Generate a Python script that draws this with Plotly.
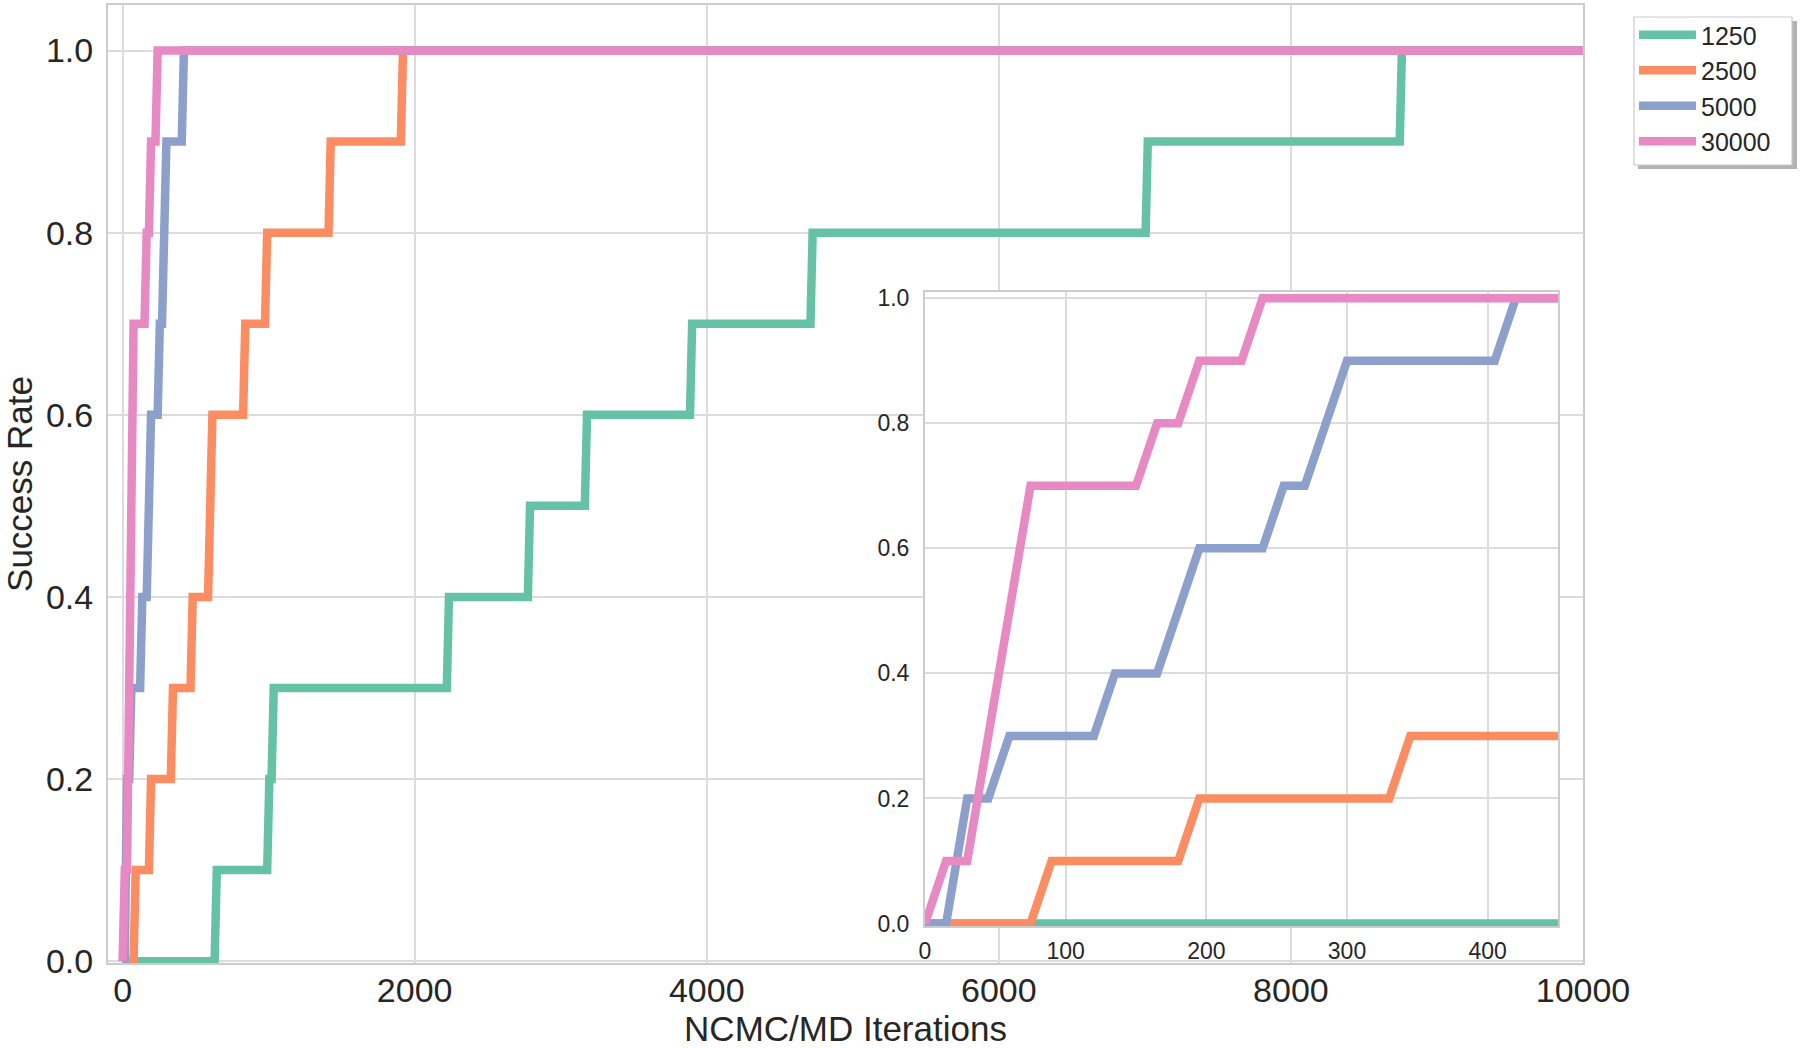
import plotly.graph_objects as go

# ---------------- data ----------------
series_names = ["1250", "2500", "5000", "30000"]
colors = ["#66c2a5", "#fc8d62", "#8da0cb", "#e78ac3"]

x_1250 = [0, 630, 645, 990, 1005, 1020, 1035, 2220, 2235, 2775, 2790, 3165, 3180,
          3885, 3900, 4710, 4725, 7005, 7020, 8745, 8760, 10000]
y_1250 = [0, 0, 0.1, 0.1, 0.2, 0.2, 0.3, 0.3, 0.4, 0.4, 0.5, 0.5, 0.6,
          0.6, 0.7, 0.7, 0.8, 0.8, 0.9, 0.9, 1.0, 1.0]

x_2500 = [0, 75, 90, 180, 195, 330, 345, 465, 480, 585, 615, 825, 840, 975,
          990, 1410, 1425, 1905, 1920, 10000]
y_2500 = [0, 0, 0.1, 0.1, 0.2, 0.2, 0.3, 0.3, 0.4, 0.4, 0.6, 0.6, 0.7, 0.7,
          0.8, 0.8, 0.9, 0.9, 1.0, 1.0]

x_5000 = [0, 15, 30, 45, 60, 120, 135, 165, 195, 240, 255, 270, 300, 405, 420, 10000]
y_5000 = [0, 0, 0.2, 0.2, 0.3, 0.3, 0.4, 0.4, 0.6, 0.6, 0.7, 0.7, 0.9, 0.9, 1.0, 1.0]

x_30000 = [0, 15, 30, 75, 150, 165, 180, 195, 225, 240, 10000]
y_30000 = [0, 0.1, 0.1, 0.7, 0.7, 0.8, 0.8, 0.9, 0.9, 1.0, 1.0]

main_xticks = [0, 2000, 4000, 6000, 8000, 10000]
main_yticks = [0.0, 0.2, 0.4, 0.6, 0.8, 1.0]
inset_xticks = [0, 100, 200, 300, 400]
inset_yticks = [0.0, 0.2, 0.4, 0.6, 0.8, 1.0]

xs = [x_1250, x_2500, x_5000, x_30000]
ys = [y_1250, y_2500, y_5000, y_30000]

# ---------------- layout geometry ----------------
W, H = 1800, 1048
L, R, T, B = 108, 1583, 5, 963  # main plot area in px
LW = 8.5
TXT = "#262626"
GRID = "#dcdcdc"
SPINE = "#cccccc"
FONT = "Liberation Sans, Arial, sans-serif"


def px2x(px):
    return (px - L) / (R - L)


def px2y(py):
    return (B - py) / (B - T)


fig = go.Figure()

for name, c, x, y in zip(series_names, colors, xs, ys):
    fig.add_trace(go.Scatter(x=x, y=y, mode="lines", name=name,
                             line=dict(color=c, width=LW),
                             xaxis="x", yaxis="y"))
for name, c, x, y in zip(series_names, colors, xs, ys):
    fig.add_trace(go.Scatter(x=x, y=y, mode="lines", name=name, showlegend=False,
                             line=dict(color=c, width=LW),
                             xaxis="x2", yaxis="y2"))

axis_common = dict(showgrid=True, gridcolor=GRID, gridwidth=1.5, zeroline=False,
                   showline=True, linecolor=SPINE, linewidth=2, mirror=True,
                   ticks="", color=TXT, automargin=False)

fig.update_layout(
    width=W, height=H, autosize=False,
    margin=dict(l=L, r=W - R, t=T, b=H - B, pad=0, autoexpand=False),
    paper_bgcolor="white", plot_bgcolor="white",
    font=dict(family=FONT, color=TXT),
    showlegend=True,
    xaxis=dict(domain=[0, 1], range=[-100, 10000], tickvals=main_xticks,
               ticktext=[str(v) for v in main_xticks],
               tickfont=dict(size=34), ticklabelstandoff=-4,
               title=dict(text="NCMC/MD Iterations", font=dict(size=35), standoff=4),
               anchor="y", **axis_common),
    yaxis=dict(domain=[0, 1], range=[-0.002, 1.05], tickvals=main_yticks,
               ticktext=[f"{v:.1f}" for v in main_yticks],
               tickfont=dict(size=34), ticklabelstandoff=6,
               title=dict(text="Success Rate", font=dict(size=35), standoff=20),
               anchor="x", **axis_common),
    xaxis2=dict(domain=[px2x(925), px2x(1558)], range=[0, 450], tickvals=inset_xticks,
                ticktext=[str(v) for v in inset_xticks],
                tickfont=dict(size=23), ticklabelstandoff=3,
                anchor="y2", **axis_common),
    yaxis2=dict(domain=[px2y(926), px2y(292)], range=[-0.004, 1.01], tickvals=inset_yticks,
                ticktext=[f"{v:.1f}" for v in inset_yticks],
                tickfont=dict(size=23), ticklabelstandoff=9,
                anchor="x2", **axis_common),
    legend=dict(x=px2x(1634), y=px2y(12), xanchor="left", yanchor="top",
                bgcolor="rgba(0,0,0,0)", borderwidth=0,
                font=dict(size=25, color=TXT, family=FONT),
                itemwidth=57, tracegroupgap=0),
)

# legend frame with shadow (drawn as shapes under the transparent legend)
fig.add_shape(type="rect", xref="paper", yref="paper",
              x0=px2x(1638), x1=px2x(1797), y0=px2y(169), y1=px2y(21),
              fillcolor="#b3b3b3", line=dict(width=0), layer="above")
fig.add_shape(type="rect", xref="paper", yref="paper",
              x0=px2x(1634), x1=px2x(1792), y0=px2y(165), y1=px2y(17),
              fillcolor="white", line=dict(width=1.2, color=SPINE), layer="above")

fig.write_html("out.html", config={"displayModeBar": False},
               post_script="document.body.style.margin='0';")
